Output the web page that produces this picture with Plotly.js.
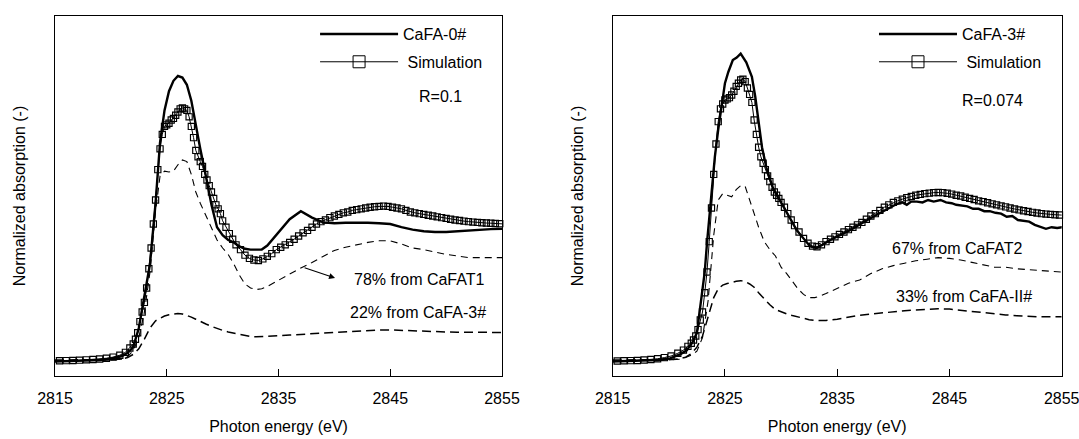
<!DOCTYPE html>
<html>
<head>
<meta charset="utf-8">
<script src="https://cdn.plot.ly/plotly-3.0.1.min.js"></script>
<style>
  html, body { margin: 0; padding: 0; background: #fff; }
  #chart { width: 1079px; height: 439px; }
</style>
</head>
<body>
<div id="chart"></div>
<script>
// Photon energy grids (eV)
const lineEnergy = [2815, 2817, 2819, 2820, 2821, 2821.5, 2822, 2822.5, 2823, 2823.5, 2824,
  2824.4, 2824.8, 2825.2, 2825.6, 2826.0, 2826.4, 2826.8, 2827.2, 2827.6, 2828.0,
  2828.5, 2829.0, 2829.5, 2830.0, 2830.5, 2831.0, 2831.5, 2832.0, 2832.5, 2833.0, 2833.5, 2834.0,
  2835, 2836, 2837, 2838, 2839, 2840, 2841, 2842, 2843, 2844, 2845, 2846, 2847, 2848, 2849,
  2850, 2851, 2852, 2853, 2854, 2855];

const simEnergy = [2814.8, 2815.4, 2816.0, 2816.6, 2817.2, 2817.8, 2818.4, 2819.0, 2819.6, 2820.2, 2820.8, 2821.3, 2821.7,
  2822.0, 2822.2, 2822.4, 2822.6, 2822.8, 2823.0, 2823.2, 2823.4, 2823.6, 2823.8,
  2824.0, 2824.2, 2824.4, 2824.6, 2824.8, 2825.0, 2825.2, 2825.4, 2825.6, 2825.8,
  2826.0, 2826.2, 2826.4, 2826.6, 2826.8, 2827.0, 2827.2, 2827.4, 2827.6, 2827.8,
  2828.0, 2828.2, 2828.4, 2828.6, 2828.8, 2829.0, 2829.2, 2829.4, 2829.6, 2829.8,
  2830.0, 2830.3, 2830.6, 2830.9, 2831.2,
  2831.6, 2832.0, 2832.4, 2832.8, 2833.2, 2833.6, 2834.0, 2834.4, 2834.8, 2835.2,
  2835.6, 2836.0, 2836.4, 2836.8, 2837.2, 2837.6, 2838.0, 2838.4, 2838.8, 2839.2,
  2839.6, 2840.0, 2840.4, 2840.8, 2841.2, 2841.6, 2842.0, 2842.4, 2842.8, 2843.2,
  2843.6, 2844.0, 2844.4, 2844.8, 2845.2, 2845.6, 2846.0, 2846.4, 2846.8, 2847.2,
  2847.6, 2848.0, 2848.4, 2848.8, 2849.2, 2849.6, 2850.0, 2850.4, 2850.8, 2851.2,
  2851.6, 2852.0, 2852.4, 2852.8, 2853.2, 2853.6, 2854.0, 2854.4, 2854.8, 2855.2];

const fa3Energy = [2814.8, 2817, 2819, 2820.1, 2821, 2821.6, 2822.1, 2822.5, 2822.9, 2823.2, 2823.4, 2823.6,
  2823.8, 2824.1, 2824.4, 2824.7, 2825.0, 2825.3, 2825.7, 2826.05, 2826.4, 2826.9, 2827.4, 2827.7,
  2828.0, 2828.3, 2828.7, 2829.3, 2830.2, 2831.4, 2832.6, 2833.2, 2834.4, 2836.1, 2838.2, 2840.3,
  2840.8, 2841.2, 2841.6, 2842.1, 2842.6, 2843.1, 2843.6, 2844.2, 2844.7, 2845.2, 2845.6, 2846.1,
  2846.6, 2847.1, 2847.6, 2848.1, 2848.6, 2849.1, 2849.6, 2850.1, 2850.6, 2851.1, 2851.6, 2852.1,
  2852.6, 2853.1, 2853.6, 2854.1, 2854.6, 2855.1];

// Left panel: CaFA-0# measured, fitted simulation and its two weighted parts
const cafa0Abs = [-0.01, -0.006, 0.0, 0.008, 0.025, 0.045, 0.08, 0.2, 0.4, 0.6, 0.98,
  1.36, 1.56, 1.68, 1.745, 1.775, 1.765, 1.72, 1.62, 1.46, 1.32,
  1.15, 0.97, 0.83, 0.78, 0.75, 0.735, 0.71, 0.695, 0.69, 0.69, 0.69, 0.715,
  0.80, 0.88, 0.93, 0.89, 0.86, 0.855, 0.858, 0.86, 0.858, 0.855, 0.85, 0.83, 0.815, 0.805, 0.80,
  0.80, 0.805, 0.81, 0.815, 0.818, 0.82];

const simLeftAbs = [-0.005, -0.005, -0.004, -0.003, -0.001, 0.001, 0.003, 0.006, 0.011, 0.018, 0.03, 0.048, 0.075,
  0.1, 0.13, 0.17, 0.24, 0.3, 0.36, 0.45, 0.57, 0.7, 0.85,
  1.0, 1.19, 1.32, 1.41, 1.46, 1.47, 1.48, 1.5, 1.51, 1.53,
  1.55, 1.57, 1.575, 1.57, 1.56, 1.52, 1.46, 1.39, 1.31, 1.27,
  1.24, 1.21, 1.16, 1.125, 1.09, 1.05, 1.01, 0.97, 0.945, 0.915,
  0.87, 0.83, 0.79, 0.755, 0.72,
  0.69, 0.655, 0.635, 0.625, 0.622, 0.632, 0.648, 0.665, 0.69, 0.705,
  0.72, 0.735, 0.755, 0.775, 0.795, 0.81, 0.83, 0.85, 0.865, 0.875,
  0.89, 0.9, 0.91, 0.92, 0.925, 0.935, 0.94, 0.945, 0.95, 0.955,
  0.958, 0.96, 0.962, 0.96, 0.955, 0.95, 0.945, 0.935, 0.925, 0.92,
  0.915, 0.91, 0.905, 0.9, 0.895, 0.89, 0.885, 0.88, 0.875, 0.872,
  0.868, 0.865, 0.862, 0.86, 0.858, 0.856, 0.855, 0.853, 0.852, 0.85];

const cafat1Part = [-0.005, -0.004, -0.002, 0.0, 0.005, 0.02, 0.06, 0.14, 0.3, 0.55, 0.93,
  1.15, 1.18, 1.175, 1.18, 1.22, 1.25, 1.24, 1.16, 1.05, 0.98,
  0.9, 0.82, 0.75, 0.7, 0.66, 0.6, 0.53, 0.475, 0.45, 0.44, 0.445, 0.46,
  0.5, 0.54, 0.575, 0.61, 0.65, 0.685, 0.705, 0.72, 0.735, 0.745, 0.745, 0.725, 0.7, 0.69, 0.675,
  0.66, 0.65, 0.64, 0.64, 0.64, 0.64];

const cafa3Part = [0.0, 0.0, 0.0, 0.002, 0.008, 0.015, 0.035, 0.07, 0.13, 0.2, 0.245,
  0.262, 0.275, 0.283, 0.288, 0.29, 0.288, 0.28, 0.268, 0.255, 0.24,
  0.225, 0.21, 0.195, 0.185, 0.175, 0.168, 0.16, 0.152, 0.147, 0.145, 0.146, 0.148,
  0.152, 0.156, 0.16, 0.165, 0.17, 0.175, 0.178, 0.182, 0.186, 0.188, 0.188, 0.185, 0.18, 0.178, 0.176,
  0.175, 0.174, 0.173, 0.172, 0.17, 0.172];

// Right panel: CaFA-3# measured, fitted simulation and its two weighted parts
const cafa3Abs = [-0.01, -0.006, 0.0, 0.01, 0.035, 0.06, 0.11, 0.17, 0.375, 0.55, 0.73, 0.9,
  1.06, 1.27, 1.44, 1.58, 1.73, 1.80, 1.875, 1.89, 1.915, 1.86, 1.77, 1.645,
  1.48, 1.33, 1.2, 1.07, 0.96, 0.81, 0.71, 0.70, 0.75, 0.81, 0.895, 0.975,
  0.985, 0.97, 0.99, 0.99, 0.985, 1.0, 0.99, 1.0, 0.985, 0.98, 0.97, 0.965,
  0.96, 0.945, 0.945, 0.93, 0.93, 0.92, 0.915, 0.895, 0.9, 0.875, 0.87, 0.865,
  0.845, 0.83, 0.82, 0.83, 0.825, 0.83];

const simRightAbs = [-0.006, -0.006, -0.005, -0.004, -0.003, 0.0, 0.003, 0.008, 0.015, 0.025, 0.042, 0.062, 0.085,
  0.105, 0.125, 0.15, 0.19, 0.25, 0.3, 0.42, 0.55, 0.74, 0.95,
  1.16, 1.35, 1.49, 1.57, 1.6, 1.625, 1.632, 1.64, 1.656, 1.68,
  1.71, 1.73, 1.75, 1.755, 1.74, 1.7, 1.66, 1.61, 1.5, 1.41,
  1.33, 1.27, 1.23, 1.19, 1.15, 1.115, 1.08, 1.05, 1.03, 1.01,
  0.985, 0.955, 0.915, 0.875, 0.84,
  0.8, 0.76, 0.73, 0.712, 0.708, 0.72, 0.74, 0.755, 0.77, 0.785,
  0.8, 0.815, 0.83, 0.845, 0.86, 0.88, 0.9, 0.915, 0.935, 0.955,
  0.97, 0.985, 0.995, 1.005, 1.015, 1.022, 1.03, 1.035, 1.04, 1.043,
  1.046, 1.047, 1.046, 1.042, 1.037, 1.03, 1.025, 1.017, 1.01, 1.003,
  0.995, 0.99, 0.983, 0.976, 0.97, 0.963, 0.957, 0.95, 0.944, 0.938,
  0.933, 0.928, 0.923, 0.919, 0.915, 0.912, 0.91, 0.908, 0.906, 0.905];

const cafat2Part = [-0.005, -0.004, -0.002, 0.0, 0.005, 0.015, 0.03, 0.055, 0.14, 0.37, 0.78,
  1.0, 1.04, 1.03, 1.02, 1.065, 1.09, 1.085, 1.0, 0.91, 0.83,
  0.74, 0.69, 0.65, 0.58, 0.54, 0.49, 0.445, 0.41, 0.39, 0.39, 0.4, 0.415,
  0.445, 0.48, 0.5, 0.54, 0.57, 0.59, 0.605, 0.62, 0.63, 0.64, 0.635, 0.625, 0.61, 0.595, 0.58,
  0.58, 0.57, 0.565, 0.56, 0.555, 0.55];

const cafaIIPart = [0.0, 0.0, 0.0, 0.002, 0.008, 0.018, 0.04, 0.08, 0.15, 0.27, 0.39,
  0.445, 0.468, 0.478, 0.487, 0.492, 0.496, 0.49, 0.475, 0.455, 0.42,
  0.38, 0.345, 0.315, 0.3, 0.288, 0.278, 0.268, 0.26, 0.252, 0.247, 0.245, 0.247,
  0.255, 0.268, 0.28, 0.287, 0.295, 0.302, 0.308, 0.312, 0.316, 0.32, 0.318, 0.31, 0.302, 0.295, 0.288,
  0.282, 0.277, 0.273, 0.27, 0.27, 0.27];

// Labels
const energyTicks = [2815, 2825, 2835, 2845, 2855];
const leftSeriesNames = ['CaFA-0#', 'Simulation'];
const rightSeriesNames = ['CaFA-3#', 'Simulation'];
const leftNotes = ['R=0.1', '78% from CaFAT1', '22% from CaFA-3#'];
const rightNotes = ['R=0.074', '67% from CaFAT2', '33% from CaFA-II#'];

const FONT = 'Liberation Sans, Arial, Helvetica, sans-serif';
const INK = '#000';

function measured(x, y, xa, ya) {
  return { x, y, xaxis: xa, yaxis: ya, mode: 'lines', showlegend: false,
    line: { color: INK, width: 2.4 }, hoverinfo: 'skip' };
}
function simulated(x, y, xa, ya) {
  return { x, y, xaxis: xa, yaxis: ya, mode: 'lines+markers', showlegend: false, cliponaxis: false,
    line: { color: INK, width: 1 },
    marker: { symbol: 'square-open', size: 6.2, color: INK, line: { width: 1.15, color: INK } },
    hoverinfo: 'skip' };
}
function part(x, y, xa, ya, width, dash) {
  return { x, y, xaxis: xa, yaxis: ya, mode: 'lines', showlegend: false,
    line: { color: INK, width, dash }, hoverinfo: 'skip' };
}
// legend entries (no data of their own)
function keyLine(name, legend, group) {
  return { x: [null], y: [null], mode: 'lines', name, legend, legendgroup: group,
    line: { color: INK, width: 2.4 } };
}
function keySim(name, legend, group) {
  return { x: [null], y: [null], mode: 'lines+markers', name: ' ' + name, legend, legendgroup: group,
    line: { color: INK, width: 1 },
    marker: { symbol: 'square-open', size: 12, color: INK, line: { width: 1, color: INK } } };
}

const data = [
  part(lineEnergy, cafa3Part, 'x', 'y', 1.5, '9px,5px'),
  part(lineEnergy, cafat1Part, 'x', 'y', 1.1, '7px,5px'),
  measured(lineEnergy, cafa0Abs, 'x', 'y'),
  simulated(simEnergy, simLeftAbs, 'x', 'y'),
  part(lineEnergy, cafaIIPart, 'x2', 'y2', 1.5, '9px,5px'),
  part(lineEnergy, cafat2Part, 'x2', 'y2', 1.1, '7px,5px'),
  measured(fa3Energy, cafa3Abs, 'x2', 'y2'),
  simulated(simEnergy, simRightAbs, 'x2', 'y2'),
  keyLine(leftSeriesNames[0], 'legend', 'l1'),
  keySim(leftSeriesNames[1], 'legend', 'l2'),
  keyLine(rightSeriesNames[0], 'legend2', 'r1'),
  keySim(rightSeriesNames[1], 'legend2', 'r2')
];

function xAxis(domain, anchor) {
  return {
    domain, anchor, range: [2815, 2855], tickmode: 'array', tickvals: energyTicks,
    ticks: 'inside', ticklen: 7, tickwidth: 1, tickcolor: INK,
    showline: true, linecolor: INK, linewidth: 1, mirror: true,
    showgrid: false, zeroline: false, ticklabeloverflow: 'allow',
    tickfont: { family: FONT, size: 16, color: INK }, ticklabelstandoff: 8,
    title: { text: 'Photon energy (eV)', font: { family: FONT, size: 16, color: INK }, standoff: 14 }
  };
}
function yAxis(domain, anchor) {
  return {
    domain, anchor, range: [-0.1, 2.15],
    showticklabels: false, ticks: '',
    showline: true, linecolor: INK, linewidth: 1, mirror: true,
    showgrid: false, zeroline: false,
    title: { text: 'Normalized absorption (-)', font: { family: FONT, size: 16, color: INK }, standoff: 24 }
  };
}

function note(text, x, y, xref, yref) {
  return { text, x, y, xref, yref, xanchor: 'left', yanchor: 'middle', showarrow: false,
    font: { family: FONT, size: 16, color: INK } };
}

const legendStyle = (x) => ({
  x, y: 0.997, xanchor: 'left', yanchor: 'top', bgcolor: 'rgba(0,0,0,0)',
  itemwidth: 78, traceorder: 'grouped', tracegroupgap: 4,
  font: { family: FONT, size: 16, color: INK }
});

const layout = {
  width: 1079, height: 439,
  margin: { l: 0, r: 0, t: 16, b: 63 },
  paper_bgcolor: '#fff', plot_bgcolor: '#fff',
  font: { family: FONT, size: 16, color: INK },
  showlegend: true,
  xaxis: xAxis([55 / 1079, 502 / 1079], 'y'),
  yaxis: yAxis([0, 1], 'x'),
  xaxis2: xAxis([612.7 / 1079, 1061.7 / 1079], 'y2'),
  yaxis2: yAxis([0, 1], 'x2'),
  legend: legendStyle(0.292),
  legend2: legendStyle(0.81),
  annotations: [
    note(leftNotes[0], 2847.4, 1.644, 'x', 'y'),
    note(leftNotes[1], 2841.6, 0.506, 'x', 'y'),
    note(leftNotes[2], 2841.2, 0.30, 'x', 'y'),
    note(rightNotes[0], 2845.9, 1.625, 'x2', 'y2'),
    note(rightNotes[1], 2839.7, 0.694, 'x2', 'y2'),
    note(rightNotes[2], 2840.06, 0.396, 'x2', 'y2'),
    { text: '', x: 2840.06, y: 0.5125, xref: 'x', yref: 'y',
      ax: 2837.2, ay: 0.58, axref: 'x', ayref: 'y',
      showarrow: true, arrowhead: 2, arrowsize: 1, arrowwidth: 1.2, arrowcolor: INK, standoff: 0 }
  ]
};

Plotly.newPlot('chart', data, layout, { staticPlot: true, displayModeBar: false });
</script>
</body>
</html>
